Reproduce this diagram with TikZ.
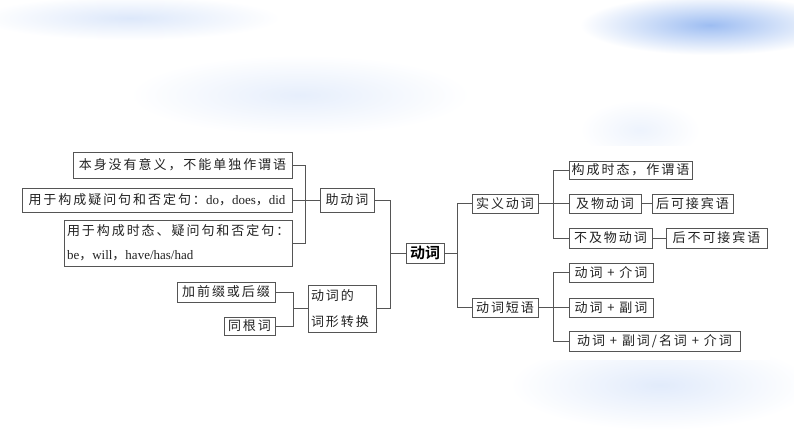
\documentclass[tikz,border=0pt]{standalone}
\usepackage{fontspec}
\setmainfont{Liberation Serif}
\newfontfamily\cjk[LetterSpace=15]{Noto Sans CJK SC}
\newfontfamily\cjkb{Noto Sans CJK SC Bold}
\usetikzlibrary{positioning}
\definecolor{ln}{HTML}{555555}
\definecolor{tx}{HTML}{222222}
\definecolor{bl}{HTML}{9DBDF2}
\tikzset{
  bx/.style={draw=ln, line width=0.8pt, text=tx, inner sep=0pt, font=\fontsize{13}{14}\selectfont\cjk, align=center},
  cn/.style={draw=ln, line width=0.9pt},
}
% \bxnode{name}{x1}{y1}{x2}{y2}{text}
\newcommand{\bxnode}[6]{\node[bx, minimum width={#4pt-#2pt}, minimum height={#5pt-#3pt}] (#1) at ({(#2+#4)/2},{(#3+#5)/2}) {#6};}
\begin{document}
\begin{tikzpicture}[x=1pt,y=-1pt]
\useasboundingbox (0,0) rectangle (794,447);
\fill[white] (0,0) rectangle (794,447);
% soft background blobs
\shade[inner color=bl!35, outer color=white] (130,18) ellipse (150 and 22);
\shade[inner color=bl, outer color=white] (710,25) ellipse (130 and 30);
\shade[inner color=bl!25, outer color=white] (300,95) ellipse (170 and 40);
\shade[inner color=bl!18, outer color=white] (640,130) ellipse (60 and 30);
\shade[inner color=bl!30, outer color=white] (660,385) ellipse (150 and 45);
\fill[white] (20,146) rectangle (770,360);
% left group
\bxnode{a1}{73}{152}{292}{178}{本身没有意义，不能单独作谓语}
\bxnode{a2}{22}{188}{292}{212}{用于构成疑问句和否定句：{\rmfamily do}，{\rmfamily does}，{\rmfamily did}}
\node[bx, minimum width=228pt, minimum height=46pt, text width=222pt, align=left, font=\fontsize{13}{24}\selectfont\cjk] (a3) at ({(64+292)/2},{(220+266)/2}) {用于构成时态、疑问句和否定句：\\{\rmfamily be}，{\rmfamily will}，{\rmfamily have/has/had}};
\bxnode{zd}{320}{188}{374}{212}{助动词}
\bxnode{b1}{177}{282}{275}{302}{加前缀或后缀}
\bxnode{b2}{224}{317}{275}{335}{同根词}
\node[bx, minimum width=68pt, minimum height=47pt, text width=62pt, align=left, font=\fontsize{13}{26}\selectfont\cjk] (zh) at ({(308+376)/2},{(285+332)/2}) {动词的\\词形转换};
\node[bx, minimum width=38pt, minimum height=20pt, font=\fontsize{15}{16}\selectfont\cjkb, text=black] (dc) at (425,253) {动词};
% right group
\bxnode{sy}{472}{194}{538}{213}{实义动词}
\bxnode{dy}{472}{298}{538}{317}{动词短语}
\bxnode{c1}{569}{161}{692}{179}{构成时态，作谓语}
\bxnode{c2}{569}{194}{641}{213}{及物动词}
\bxnode{c2r}{652}{194}{733}{213}{后可接宾语}
\bxnode{c3}{569}{228}{652}{248}{不及物动词}
\bxnode{c3r}{666}{228}{767}{248}{后不可接宾语}
\bxnode{d1}{569}{263}{653}{282}{动词 + 介词}
\bxnode{d2}{569}{298}{653}{317}{动词 + 副词}
\bxnode{d3}{569}{331}{740}{351}{动词 + 副词/名词 + 介词}
% connectors
\coordinate (v1) at (305,0);
\draw[cn] (a1.east) -- (a1.east -| v1) -- (a3.east -| v1) -- (a3.east);
\draw[cn] (a2.east) -- (zd.west);
\coordinate (v2) at (293,0);
\draw[cn] (b1.east) -- (b1.east -| v2) -- (b2.east -| v2) -- (b2.east);
\draw[cn] (zh.west -| v2) -- (zh.west);
\coordinate (v3) at (390,0);
\draw[cn] (zd.east) -- (zd.east -| v3) -- (zh.east -| v3) -- (zh.east);
\draw[cn] (dc.west -| v3) -- (dc.west);
\coordinate (v4) at (457,0);
\draw[cn] (sy.west) -- (sy.west -| v4) -- (dy.west -| v4) -- (dy.west);
\draw[cn] (dc.east) -- (dc.east -| v4);
\coordinate (v5) at (553,0);
\draw[cn] (c1.west) -- (c1.west -| v5) -- (c3.west -| v5) -- (c3.west);
\draw[cn] (sy.east) -- (c2.west);
\draw[cn] (c2.east) -- (c2r.west);
\draw[cn] (c3.east) -- (c3r.west);
\draw[cn] (d1.west) -- (d1.west -| v5) -- (d3.west -| v5) -- (d3.west);
\draw[cn] (dy.east) -- (d2.west);
\end{tikzpicture}
\end{document}
